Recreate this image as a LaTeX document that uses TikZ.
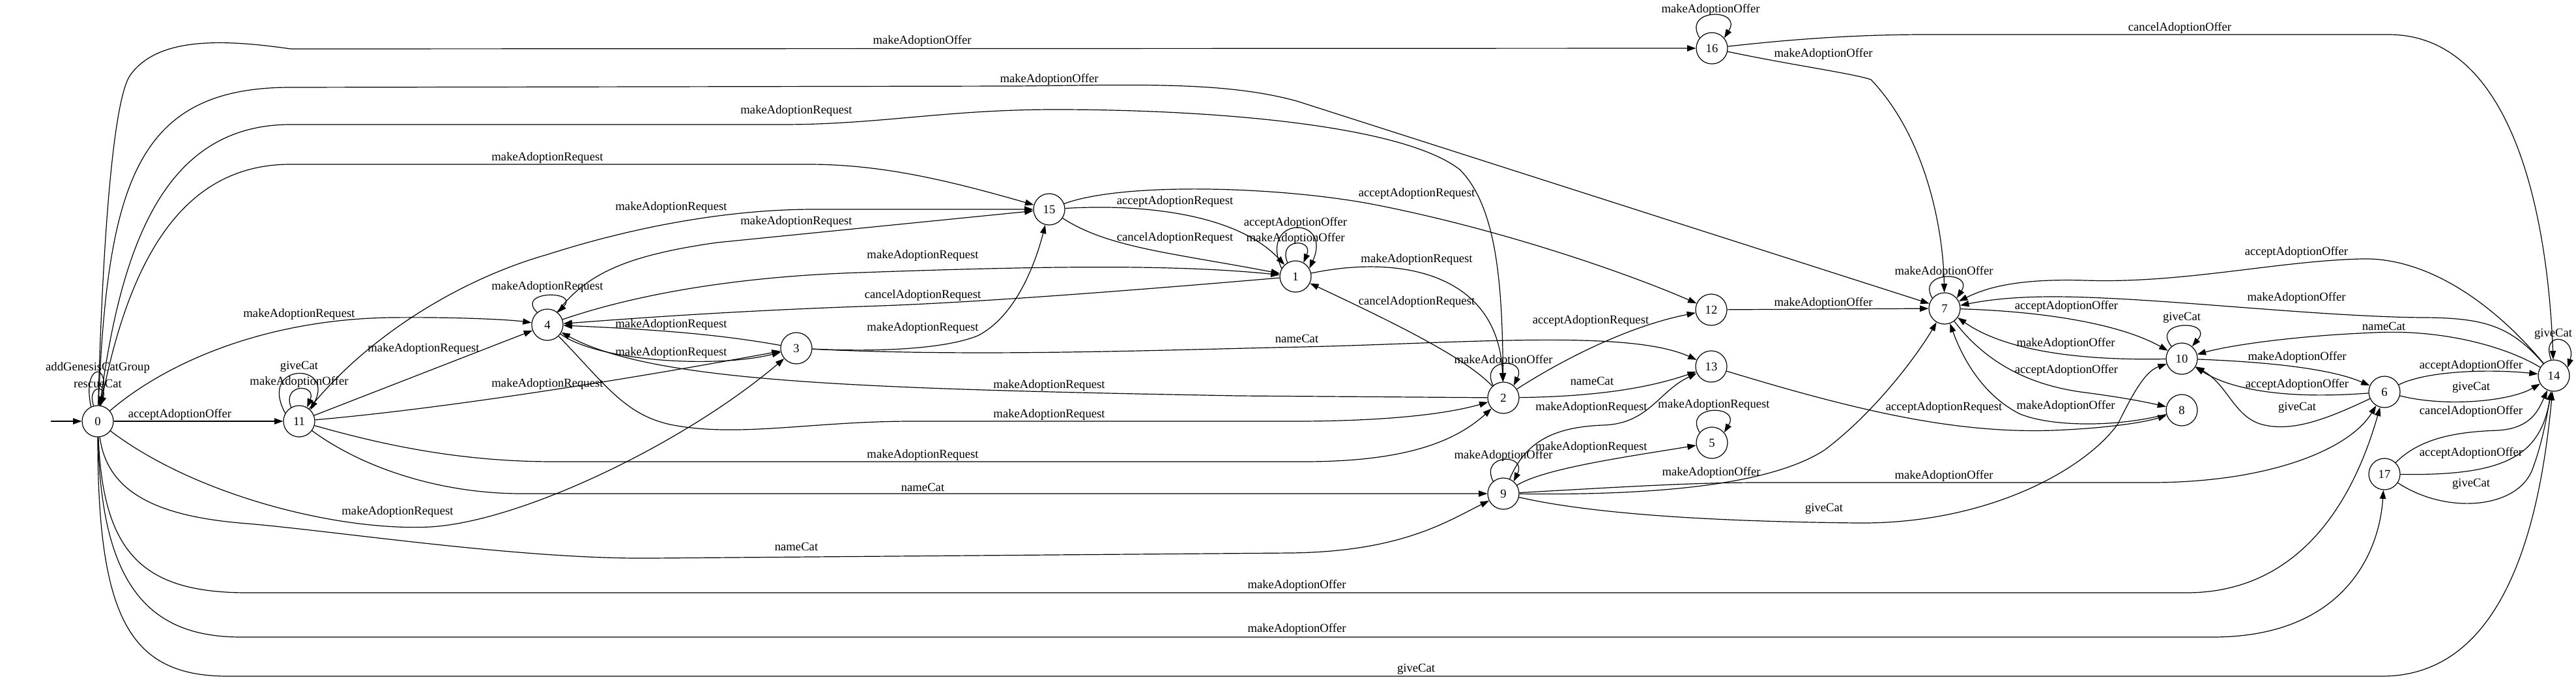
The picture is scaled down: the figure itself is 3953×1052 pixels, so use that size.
\documentclass[tikz,border=0pt]{standalone}
\usepackage{fontspec}
\setmainfont{Liberation Serif}
\usetikzlibrary{arrows.meta}

\begin{document}
\begin{tikzpicture}[x=0.75pt,y=-0.75pt,
    state/.style={circle,draw,line width=0.9pt,minimum size=36pt,inner sep=0pt,font=\fontsize{14}{16}\selectfont},
    trans/.style={line width=0.9pt,-{Triangle[length=10pt,width=7pt]}},
    lbl/.style={inner sep=0pt,font=\fontsize{14}{16}\selectfont}]
  \useasboundingbox (0,0) rectangle (3953,1052);
  \node[state] (n0) at (150,646) {0};
  \node[state] (n11) at (459,646) {11};
  \node[state] (n4) at (840,498) {4};
  \node[state] (n3) at (1222,534) {3};
  \node[state] (n15) at (1610,321) {15};
  \node[state] (n1) at (1988,424) {1};
  \node[state] (n2) at (2307,610) {2};
  \node[state] (n9) at (2307,757) {9};
  \node[state] (n16) at (2627,74) {16};
  \node[state] (n12) at (2626,475) {12};
  \node[state] (n13) at (2626,562) {13};
  \node[state] (n5) at (2627,679) {5};
  \node[state] (n7) at (2984,473) {7};
  \node[state] (n10) at (3348,550) {10};
  \node[state] (n8) at (3348,629) {8};
  \node[state] (n6) at (3659,601) {6};
  \node[state] (n17) at (3659,727) {17};
  \node[state] (n14) at (3919,576) {14};
  \coordinate (init) at (78,646);

  \draw[trans] (init) -- (n0);
  \draw[trans] (n0.115) .. controls (125,555) and (172,555) .. (n0.85) node[lbl] (l0a) at (150,564) {addGenesisCatGroup};
  \draw[trans] (n0.105) .. controls (133,590) and (165,590) .. (n0.80) node[lbl] (l0b) at (150,588) {rescueCat};
  \draw[trans] (n0) -- (n11) node[lbl] (l0-11) at (276,636) {acceptAdoptionOffer};
  \draw[trans] (n0) .. controls (158,350) and (175,150) .. (200,115) .. controls (240,60) and (330,58) .. (446,75) -- (n16) node[lbl] (l0-16) at (1415,63) {makeAdoptionOffer};
  \draw[trans] (n0) .. controls (165,280) and (210,134) .. (446,134) -- (1560,132) .. controls (1750,130) and (1880,125) .. (1990,155) -- (n7) node[lbl] (l0-7) at (1610,122) {makeAdoptionOffer};
  \draw[trans] (n0) .. controls (185,380) and (250,191) .. (446,191) -- (1200,191) .. controls (1350,191) and (1450,168) .. (1620,168) .. controls (1850,168) and (2150,190) .. (2240,260) .. controls (2300,320) and (2305,450) .. (n2) node[lbl] (l0-2) at (1222,170) {makeAdoptionRequest};
  \draw[trans] (n0) .. controls (200,380) and (290,252) .. (446,252) -- (1240,252) .. controls (1350,252) and (1450,275) .. (n15) node[lbl] (l0-15) at (840,242) {makeAdoptionRequest};
  \draw[trans] (n0) .. controls (250,560) and (400,490) .. (600,487) .. controls (700,486) and (780,490) .. (n4) node[lbl] (l0-4) at (459,482) {makeAdoptionRequest};
  \draw[trans] (n0) .. controls (300,760) and (520,815) .. (660,808) .. controls (800,800) and (1050,680) .. (n3) node[lbl] (l0-3) at (610,785) {makeAdoptionRequest};
  \draw[trans] (n0) .. controls (165,760) and (250,793) .. (380,803) .. controls (520,815) and (800,858) .. (1000,856) -- (1980,848) .. controls (2150,846) and (2220,800) .. (n9) node[lbl] (l0-9) at (1222,838) {nameCat};
  \draw[trans] (n0) .. controls (158,850) and (220,909) .. (380,909) -- (3355,909) .. controls (3515,909) and (3605,790) .. (n6) node[lbl] (l0-6) at (1990,898) {makeAdoptionOffer};
  \draw[trans] (n0) .. controls (155,900) and (230,977) .. (370,977) -- (3395,977) .. controls (3595,977) and (3651,850) .. (n17) node[lbl] (l0-17) at (1990,965) {makeAdoptionOffer};
  \draw[trans] (n0) .. controls (150,950) and (200,1037) .. (350,1037) -- (3655,1037) .. controls (3845,1037) and (3898,800) .. (n14) node[lbl] (l0-14) at (2173,1026) {giveCat};

  \draw[trans] (n11.150) .. controls (395,555) and (515,555) .. (n11.45) node[lbl] (l11a) at (459,562) {giveCat};
  \draw[trans] (n11.120) .. controls (432,588) and (486,588) .. (n11.60) node[lbl] (l11b) at (459,586) {makeAdoptionOffer};
  \draw[trans] (n11) .. controls (560,520) and (700,430) .. (841,390) .. controls (950,355) and (1100,321) .. (1250,321) -- (n15) node[lbl] (l11-15) at (1030,318) {makeAdoptionRequest};
  \draw[trans] (n11) -- (n4) node[lbl] (l11-4) at (650,535) {makeAdoptionRequest};
  \draw[trans] (n11) .. controls (700,625) and (1000,575) .. (n3) node[lbl] (l11-3) at (840,589) {makeAdoptionRequest};
  \draw[trans] (n11) .. controls (580,680) and (700,708) .. (850,708) -- (2000,708) .. controls (2150,708) and (2230,680) .. (n2) node[lbl] (l11-2) at (1416,698) {makeAdoptionRequest};
  \draw[trans] (n11) .. controls (560,720) and (680,757) .. (800,757) -- (n9) node[lbl] (l11-9) at (1416,747) {nameCat};

  \draw[trans] (n4.130) .. controls (790,445) and (890,445) .. (n4.50) node[lbl] (l4a) at (840,440) {makeAdoptionRequest};
  \draw[trans] (n4) .. controls (900,420) and (960,392) .. (1100,372) -- (n15) node[lbl] (l4-15) at (1222,340) {makeAdoptionRequest};
  \draw[trans] (n4) .. controls (950,460) and (1100,425) .. (1320,418) .. controls (1600,408) and (1800,405) .. (n1) node[lbl] (l4-1) at (1416,392) {makeAdoptionRequest};
  \draw[trans] (n1) .. controls (1800,440) and (1500,465) .. (1320,470) .. controls (1100,478) and (950,490) .. (n4) node[lbl] (l1-4) at (1416,453) {cancelAdoptionRequest};
  \draw[trans] (n3) .. controls (1100,512) and (1000,505) .. (n4) node[lbl] (l3-4) at (1030,498) {makeAdoptionRequest};
  \draw[trans] (n4) .. controls (920,555) and (1100,565) .. (n3) node[lbl] (l4-3) at (1030,541) {makeAdoptionRequest};
  \draw[trans] (n2) -- (1900,607) .. controls (1300,596) and (1000,585) .. (n4) node[lbl] (l2-4) at (1610,591) {makeAdoptionRequest};
  \draw[trans] (n4) .. controls (930,590) and (960,640) .. (1039,653) .. controls (1140,670) and (1250,646) .. (1400,646) -- (2000,646) .. controls (2150,645) and (2230,632) .. (n2) node[lbl] (l4-2) at (1610,636) {makeAdoptionRequest};

  \draw[trans] (n3) .. controls (1350,540) and (1450,535) .. (1500,515) .. controls (1560,485) and (1590,400) .. (n15) node[lbl] (l3-15) at (1416,503) {makeAdoptionRequest};
  \draw[trans] (n3) .. controls (1500,548) and (1800,536) .. (2000,532) .. controls (2250,526) and (2500,505) .. (n13) node[lbl] (l3-13) at (1990,519) {nameCat};

  \draw[trans] (n15) .. controls (1720,280) and (1950,285) .. (2100,312) .. controls (2300,350) and (2500,420) .. (n12) node[lbl] (l15-12) at (2174,297) {acceptAdoptionRequest};
  \draw[trans] (n15) .. controls (1760,312) and (1900,330) .. (n1) node[lbl] (l15-1a) at (1803,309) {acceptAdoptionRequest};
  \draw[trans] (n15) .. controls (1700,380) and (1800,388) .. (n1) node[lbl] (l15-1b) at (1803,365) {cancelAdoptionRequest};

  \draw[trans] (n1.150) .. controls (1930,330) and (2046,330) .. (n1.30) node[lbl] (l1a) at (1988,342) {acceptAdoptionOffer};
  \draw[trans] (n1.120) .. controls (1960,365) and (2016,365) .. (n1.60) node[lbl] (l1b) at (1988,366) {makeAdoptionOffer};
  \draw[trans] (n1) .. controls (2150,390) and (2300,420) .. (n2) node[lbl] (l1-2) at (2174,398) {makeAdoptionRequest};
  \draw[trans] (n2) .. controls (2250,550) and (2150,500) .. (n1) node[lbl] (l2-1) at (2174,463) {cancelAdoptionRequest};

  \draw[trans] (n2.130) .. controls (2270,548) and (2344,548) .. (n2.50) node[lbl] (l2a) at (2307,553) {makeAdoptionOffer};
  \draw[trans] (n2) .. controls (2400,550) and (2500,500) .. (n12) node[lbl] (l2-12) at (2441,492) {acceptAdoptionRequest};
  \draw[trans] (n2) .. controls (2450,608) and (2530,595) .. (n13) node[lbl] (l2-13) at (2443,584) {nameCat};

  \draw[trans] (n9.130) .. controls (2270,695) and (2344,695) .. (n9.50) node[lbl] (l9a) at (2307,699) {makeAdoptionOffer};
  \draw[trans] (n9) .. controls (2340,680) and (2380,655) .. (2460,652) .. controls (2530,650) and (2545,600) .. (n13) node[lbl] (l9-13) at (2442,625) {makeAdoptionRequest};
  \draw[trans] (n9) .. controls (2370,718) and (2500,700) .. (n5) node[lbl] (l9-5) at (2442,686) {makeAdoptionRequest};
  \draw[trans] (n9) .. controls (2550,760) and (2720,742) .. (2800,690) .. controls (2880,630) and (2945,540) .. (n7) node[lbl] (l9-7) at (2626,725) {makeAdoptionOffer};
  \draw[trans] (n9) .. controls (2500,746) and (2600,740) .. (2700,740) -- (3300,740) .. controls (3480,740) and (3605,690) .. (n6) node[lbl] (l9-6) at (2983,730) {makeAdoptionOffer};
  \draw[trans] (n9) .. controls (2450,790) and (2650,800) .. (2850,802) .. controls (3050,804) and (3200,720) .. (3250,650) .. controls (3270,610) and (3290,570) .. (n10) node[lbl] (l9-10) at (2799,780) {giveCat};
  \draw[trans] (n5.140) .. controls (2582,620) and (2672,620) .. (n5.40) node[lbl] (l5a) at (2630,621) {makeAdoptionRequest};

  \draw[trans] (n16.140) .. controls (2580,12) and (2675,12) .. (n16.40) node[lbl] (l16a) at (2625,15) {makeAdoptionOffer};
  \draw[trans] (n16) .. controls (2750,60) and (2850,53) .. (2956,53) -- (3665,53) .. controls (3845,53) and (3908,300) .. (n14) node[lbl] (l16-14) at (3345,43) {cancelAdoptionOffer};
  \draw[trans] (n16) .. controls (2750,100) and (2840,112) .. (2871,122) .. controls (2955,210) and (2982,350) .. (n7) node[lbl] (l16-7) at (2798,83) {makeAdoptionOffer};
  \draw[trans] (n12) -- (n7) node[lbl] (l12-7) at (2798,465) {makeAdoptionOffer};
  \draw[trans] (n13) .. controls (2850,630) and (3000,665) .. (3150,660) .. controls (3250,656) and (3300,645) .. (n8) node[lbl] (l13-8) at (2983,625) {acceptAdoptionRequest};

  \draw[trans] (n7.140) .. controls (2940,415) and (3030,415) .. (n7.40) node[lbl] (l7a) at (2983,417) {makeAdoptionOffer};
  \draw[trans] (n14) .. controls (3813,450) and (3713,395) .. (3625,397) .. controls (3495,400) and (3350,435) .. (3200,430) .. controls (3100,427) and (3050,440) .. (n7) node[lbl] (l14-7a) at (3524,387) {acceptAdoptionOffer};
  \draw[trans] (n14) .. controls (3853,500) and (3813,487) .. (3715,487) .. controls (3545,485) and (3300,455) .. (3150,455) .. controls (3080,455) and (3040,462) .. (n7) node[lbl] (l14-7b) at (3524,457) {makeAdoptionOffer};
  \draw[trans] (n7) .. controls (3150,478) and (3260,500) .. (n10) node[lbl] (l7-10) at (3171,470) {acceptAdoptionOffer};
  \draw[trans] (n10) .. controls (3200,553) and (3080,540) .. (n7) node[lbl] (l10-7) at (3170,527) {makeAdoptionOffer};
  \draw[trans] (n7) .. controls (3050,560) and (3120,592) .. (3200,602) .. controls (3260,610) and (3290,616) .. (n8) node[lbl] (l7-8) at (3171,568) {acceptAdoptionOffer};
  \draw[trans] (n8) .. controls (3250,655) and (3150,655) .. (3100,635) .. controls (3040,605) and (3010,545) .. (n7) node[lbl] (l8-7) at (3170,623) {makeAdoptionOffer};

  \draw[trans] (n10.130) .. controls (3299,490) and (3399,490) .. (n10.50) node[lbl] (l10a) at (3348,487) {giveCat};
  \draw[trans] (n10) .. controls (3478,555) and (3576,565) .. (n6) node[lbl] (l10-6) at (3525,548) {makeAdoptionOffer};
  \draw[trans] (n6) .. controls (3517,612) and (3428,600) .. (n10) node[lbl] (l6-10a) at (3525,590) {acceptAdoptionOffer};
  \draw[trans] (n6) .. controls (3576,640) and (3517,665) .. (3468,650) .. controls (3428,637) and (3418,590) .. (n10) node[lbl] (l6-10b) at (3525,625) {giveCat};
  \draw[trans] (n14) .. controls (3843,530) and (3745,505) .. (3645,510) .. controls (3518,515) and (3420,530) .. (n10) node[lbl] (l14-10) at (3658,500) {nameCat};

  \draw[trans] (n6) .. controls (3725,568) and (3823,566) .. (n14) node[lbl] (l6-14a) at (3792,561) {acceptAdoptionOffer};
  \draw[trans] (n6) .. controls (3755,625) and (3853,615) .. (n14) node[lbl] (l6-14b) at (3792,594) {giveCat};
  \draw[trans] (n17) .. controls (3715,670) and (3775,662) .. (3833,660) .. controls (3883,657) and (3895,630) .. (n14) node[lbl] (l17-14a) at (3792,631) {cancelAdoptionOffer};
  \draw[trans] (n17) .. controls (3843,730) and (3898,700) .. (n14) node[lbl] (l17-14b) at (3792,695) {acceptAdoptionOffer};
  \draw[trans] (n17) .. controls (3755,790) and (3863,780) .. (3886,720) .. controls (3901,680) and (3908,640) .. (n14) node[lbl] (l17-14c) at (3792,742) {giveCat};
  \draw[trans] (n14.100) .. controls (3898,505) and (3955,515) .. (n14.30) node[lbl] (l14a) at (3918,512) {giveCat};
\end{tikzpicture}
\end{document}
